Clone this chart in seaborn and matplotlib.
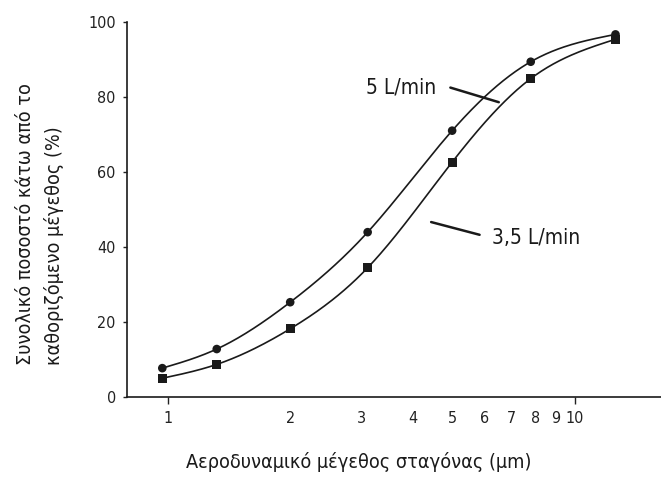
import numpy as np
import matplotlib
matplotlib.use('Agg')
import matplotlib.pyplot as plt
import seaborn as sns
from matplotlib.ticker import FixedLocator, FixedFormatter

# Data
size_5 = [0.97, 1.32, 2.0, 3.1, 5.0, 7.8, 12.6]
pct_5 = [7.6, 12.7, 25.2, 43.9, 71.0, 89.4, 96.7]
size_35 = [0.97, 1.32, 2.0, 3.1, 5.0, 7.8, 12.6]
pct_35 = [4.9, 8.6, 18.1, 34.4, 62.6, 84.9, 95.4]
minor_labels = ['2', '3', '4', '5', '6', '7', '8', '9']

sns.set_theme(style='white')
plt.rcParams['font.family'] = ['DejaVu Sans']
plt.rcParams['font.stretch'] = 'condensed'

INK = '#1a1a1a'


def smooth(xs, ys, n=300):
    # natural cubic spline through the points, in log-x space
    x = np.log10(xs)
    y = np.asarray(ys, float)
    k = len(x)
    h = np.diff(x)
    A = np.zeros((k, k))
    b = np.zeros(k)
    A[0, 0] = A[-1, -1] = 1
    for i in range(1, k - 1):
        A[i, i - 1] = h[i - 1]
        A[i, i] = 2 * (h[i - 1] + h[i])
        A[i, i + 1] = h[i]
        b[i] = 6 * ((y[i + 1] - y[i]) / h[i] - (y[i] - y[i - 1]) / h[i - 1])
    M = np.linalg.solve(A, b)
    t = np.linspace(x[0], x[-1], n)
    j = np.clip(np.searchsorted(x, t) - 1, 0, k - 2)
    a = x[j + 1] - t
    c = t - x[j]
    hj = h[j]
    yy = (M[j] * a**3 + M[j + 1] * c**3) / (6 * hj) \
        + (y[j] / hj - M[j] * hj / 6) * a + (y[j + 1] / hj - M[j + 1] * hj / 6) * c
    return 10**t, yy


fig = plt.figure(figsize=(6.61, 4.79), dpi=100)
ax = fig.add_axes([0.192, 0.172, 0.808, 0.782])

for xs, ys, mk, ms in [(size_5, pct_5, 'o', 6.2), (size_35, pct_35, 's', 6.4)]:
    cx, cy = smooth(xs, ys)
    ax.plot(cx, cy, color=INK, lw=1.2)
    sns.scatterplot(x=xs, y=ys, marker=mk, s=ms**2, color=INK,
                    edgecolor='none', ax=ax, zorder=3)

ax.set_xscale('log')
ax.set_xlim(0.794, 16.3)
ax.set_ylim(0, 100)
ax.set_yticks([0, 20, 40, 60, 80, 100])

ax.xaxis.set_major_locator(FixedLocator([1, 10]))
ax.xaxis.set_major_formatter(FixedFormatter(['1', '10']))
ax.xaxis.set_minor_locator(FixedLocator([2, 3, 4, 5, 6, 7, 8, 9]))
ax.xaxis.set_minor_formatter(FixedFormatter(minor_labels))

ax.tick_params(axis='x', which='major', bottom=True, length=5, width=1,
               pad=5, labelsize=11.5, colors='#222222')
ax.tick_params(axis='x', which='minor', bottom=True, length=0,
               pad=10, labelsize=11.5, colors='#222222')
ax.tick_params(axis='y', which='major', left=True, length=3, width=1,
               pad=5, labelsize=11.5, colors='#222222')

sns.despine(ax=ax)
for side in ['left', 'bottom']:
    ax.spines[side].set_color(INK)
    ax.spines[side].set_linewidth(1.2)

ax.set_xlabel('Αεροδυναμικό μέγεθος σταγόνας (μm)', fontsize=14.2, color=INK)
ax.xaxis.set_label_coords(0.434, -0.148)
ax.set_ylabel('Συνολικό ποσοστό κάτω από το\nκαθοριζόμενο μέγεθος (%)',
              fontsize=14.2, color=INK, multialignment='left',
              linespacing=1.6)
ax.yaxis.set_label_coords(-0.117, 0.46)

# series labels with leader lines
ax.text(4.58, 82.6, '5 L/min', ha='right', va='center', fontsize=15, color=INK)
ax.annotate('', xy=(6.51, 78.6), xytext=(4.95, 82.5),
            arrowprops=dict(arrowstyle='-', color=INK, lw=1.8,
                            shrinkA=0, shrinkB=0))
ax.text(6.25, 42.4, '3,5 L/min', ha='left', va='center', fontsize=15, color=INK)
ax.annotate('', xy=(4.44, 46.6), xytext=(5.84, 43.2),
            arrowprops=dict(arrowstyle='-', color=INK, lw=1.8,
                            shrinkA=0, shrinkB=0))

fig.savefig('out.png', dpi=100)
